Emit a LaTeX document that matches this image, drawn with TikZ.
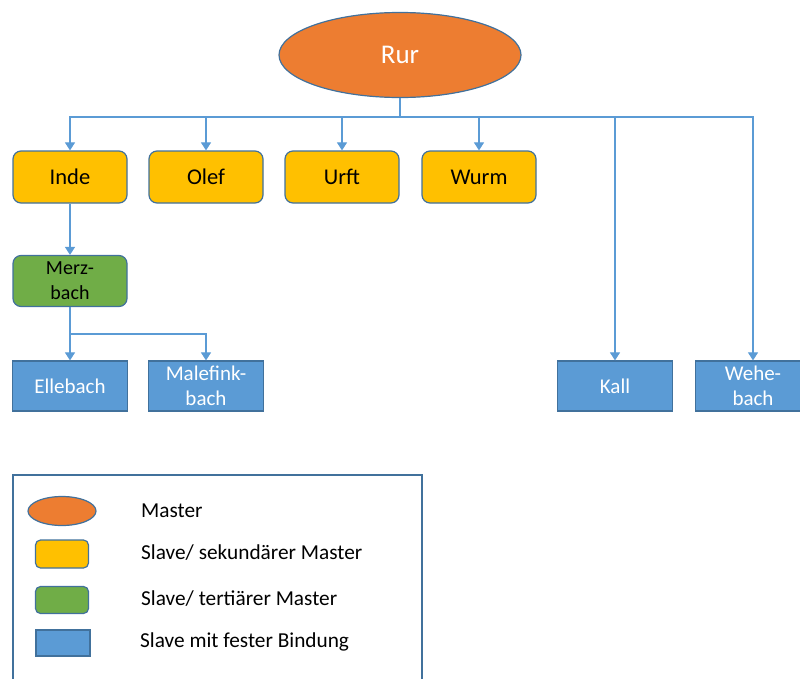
\documentclass[tikz,border=0pt]{standalone}
\usepackage{fontspec}
\setmainfont{Carlito}
\usepackage{tikz}
\usetikzlibrary{shapes.geometric,arrows.meta}
\definecolor{masterorange}{HTML}{ED7D31}
\definecolor{slaveyellow}{HTML}{FFC000}
\definecolor{slavegreen}{HTML}{70AD47}
\definecolor{slaveblue}{HTML}{5B9BD5}
\definecolor{edgeblue}{HTML}{41719C}

\begin{document}
\begin{tikzpicture}[x=1pt,y=-1pt,
  masternode/.style={ellipse,draw=edgeblue,line width=1.2pt,fill=masterorange,text=white,
    minimum width=242pt,minimum height=85pt,inner sep=0pt,font=\fontsize{27}{31}\selectfont},
  secondnode/.style={rectangle,rounded corners=8pt,draw=edgeblue,line width=1.2pt,fill=slaveyellow,
    minimum width=114pt,minimum height=52pt,inner sep=0pt,font=\fontsize{22.5}{26}\selectfont},
  tertnode/.style={secondnode,fill=slavegreen,minimum height=51pt,align=center,font=\fontsize{20}{25}\selectfont},
  fixnode/.style={rectangle,draw=edgeblue,line width=1.2pt,fill=slaveblue,text=white,
    minimum width=115pt,minimum height=50pt,inner sep=0pt,align=center,font=\fontsize{21}{25}\selectfont},
  link/.style={draw=slaveblue,line width=1.1pt,-{Triangle[length=8pt,width=10pt]}},
  legendtext/.style={anchor=west,inner sep=0pt,font=\fontsize{21.3}{25}\selectfont}]
\clip (0,0) rectangle (800,678);

\node[masternode] (rur) at (400,55) {Rur};

\node[secondnode] (inde) at (70,177) {Inde};
\node[secondnode] (olef) at (206,177) {Olef};
\node[secondnode] (urft) at (342,177) {Urft};
\node[secondnode] (wurm) at (479,177) {Wurm};

\node[tertnode] (merz) at (70,281) {Merz-\\bach};

\node[fixnode] (elle) at (70,386) {Ellebach};
\node[fixnode] (male) at (206,386) {Malefink-\\bach};
\node[fixnode] (kall) at (615,386) {Kall};
\node[fixnode] (wehe) at (753,386) {Wehe-\\bach};

\coordinate (bus) at (400,117);
\foreach \n in {inde,olef,urft,wurm,kall,wehe}
  \draw[link] (rur.south) -- (bus) -| (\n.north);

\draw[link] (inde) -- (merz);
\coordinate (fork) at (70,334);
\draw[link] (merz.south) -- (fork) -| (elle.north);
\draw[link] (merz.south) -- (fork) -| (male.north);

% legend
\draw[edgeblue,line width=1.2pt] (13,475) rectangle (422,700);
\node[masternode,minimum width=68pt,minimum height=29pt] (keymaster) at (62,511) {};
\node[secondnode,minimum width=53pt,minimum height=28pt,rounded corners=5pt] (keysecond) at (62,554) {};
\node[tertnode,minimum width=53pt,minimum height=27pt,rounded corners=5pt] (keytert) at (62,600) {};
\node[fixnode,minimum width=54pt,minimum height=26pt] (keyfix) at (63,643) {};
\node[legendtext] (txtmaster) at (141,511) {Master};
\node[legendtext] (txtsecond) at (141,553) {Slave/ sekundärer Master};
\node[legendtext] (txttert) at (141,599) {Slave/ tertiärer Master};
\node[legendtext] (txtfix) at (140,642) {Slave mit fester Bindung};
\end{tikzpicture}
\end{document}
